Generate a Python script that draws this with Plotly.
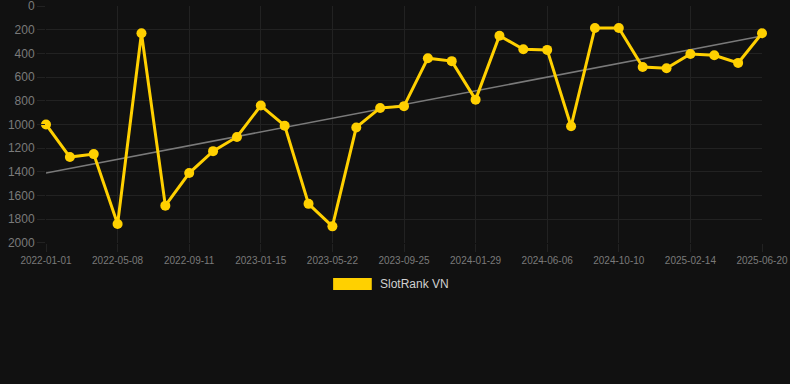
import numpy as np
import plotly.graph_objects as go

dates = [
    "2022-01-01", "2022-02-12", "2022-03-26", "2022-05-08", "2022-06-19", "2022-07-31",
    "2022-09-11", "2022-10-23", "2022-12-04", "2023-01-15", "2023-02-26", "2023-04-09",
    "2023-05-22", "2023-07-03", "2023-08-14", "2023-09-25", "2023-11-06", "2023-12-18",
    "2024-01-29", "2024-03-11", "2024-04-24", "2024-06-06", "2024-07-18", "2024-08-29",
    "2024-10-10", "2024-11-21", "2025-01-02", "2025-02-14", "2025-03-28", "2025-05-09",
    "2025-06-20",
]
ranks = [
    1000, 1275, 1250, 1840, 230, 1685, 1410, 1225, 1105, 840, 1010, 1670, 1860,
    1025, 860, 845, 440, 465, 790, 250, 365, 370, 1015, 185, 185, 515, 525, 405,
    415, 480, 230,
]
tick_labels = dates[::3]
y_ticks = list(range(0, 2001, 200))
series_name = "SlotRank VN"

GOLD = "#FFD000"
BG = "#111111"
GRID = "#222222"
TICKC = "#7a7a7a"

idx = np.arange(len(ranks))
slope, intercept = np.polyfit(idx, ranks, 1)
trend = [slope * i + intercept for i in (idx[0], idx[-1])]

fig = go.Figure()
fig.add_trace(go.Scatter(
    x=[dates[0], dates[-1]], y=trend, mode="lines",
    line=dict(color="#7a7a7a", width=1.6), showlegend=False, hoverinfo="skip",
))
fig.add_trace(go.Scatter(
    x=dates, y=ranks, mode="lines+markers", name=series_name,
    line=dict(color=GOLD, width=3),
    marker=dict(color=GOLD, size=10),
    showlegend=False, cliponaxis=False,
))

# legend drawn as a box + text
fig.add_shape(type="rect", xref="paper", yref="paper",
              x0=0.401, x1=0.455, y0=-0.148, y1=-0.198,
              fillcolor=GOLD, line=dict(width=0))
fig.add_annotation(xref="paper", yref="paper", x=0.463, y=-0.173,
                   text=series_name, showarrow=False, xanchor="left", yanchor="middle",
                   font=dict(size=12, color="#d0d0d0"))

fig.update_layout(
    width=790, height=384,
    paper_bgcolor=BG, plot_bgcolor=BG,
    margin=dict(l=46, r=28, t=6, b=141, autoexpand=False),
    font=dict(family="Liberation Sans, Arial, sans-serif"),
    showlegend=False,
)
fig.update_xaxes(
    type="category", categoryorder="array", categoryarray=dates,
    range=[0, len(dates) - 1],
    tickvals=tick_labels, ticktext=tick_labels,
    showgrid=True, gridcolor=GRID, gridwidth=1,
    ticks="outside", ticklen=8, tickcolor=GRID,
    tickfont=dict(size=10, color=TICKC),
    zeroline=False, showline=False, ticklabeloverflow="allow", automargin=False,
)
fig.update_yaxes(
    range=[2000.5, -0.5], tickvals=y_ticks,
    showgrid=True, gridcolor=GRID, gridwidth=1,
    ticks="outside", ticklen=8, tickcolor=GRID,
    tickfont=dict(size=12, color=TICKC),
    zeroline=False, showline=False, ticklabeloverflow="allow", automargin=False,
)

fig.write_html(
    "out.html",
    config={"displayModeBar": False},
    post_script="document.body.style.margin='0';document.body.style.background='#111111';",
)
